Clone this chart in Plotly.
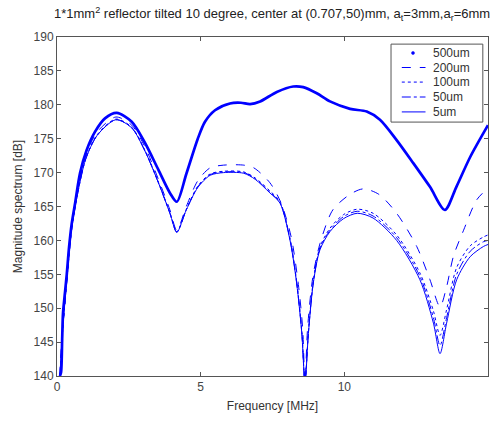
import plotly.graph_objects as go

# Frequency [MHz] / magnitude [dB] samples for each reflector roughness
freq_500um = [0.10, 0.14, 0.18, 0.21, 0.28, 0.34, 0.42, 0.51, 0.63, 0.80, 1.03, 1.32, 1.67, 2.08,
              2.60, 3.06, 3.53, 3.93, 4.17, 4.50, 4.90, 5.15, 5.50, 6.02, 6.40, 6.72, 7.07, 7.65,
              8.22, 8.57, 9.04, 9.50, 10.20, 10.78, 11.24, 11.82, 12.40, 12.98, 13.50, 13.90,
              14.38, 15.00]
mag_500um = [140.0, 140.5, 145.5, 149.3, 152.4, 155.0, 159.0, 162.4, 165.5, 169.9, 173.3, 176.0,
             178.0, 178.8, 177.5, 174.4, 170.4, 167.0, 165.7, 169.8, 175.0, 177.5, 179.2, 180.2,
             180.3, 180.1, 180.5, 181.9, 182.7, 182.6, 181.7, 180.5, 179.4, 179.0, 177.8, 174.8,
             171.4, 167.9, 164.5, 167.9, 172.3, 177.0]

freq_200um = [0.10, 0.20, 0.35, 0.50, 0.70, 1.00, 1.40, 2.05, 2.60, 3.06, 3.53, 3.93, 4.17, 4.50,
              4.90, 5.33, 5.80, 6.50, 6.85, 7.41, 7.80, 8.15, 8.40, 8.55, 8.63, 8.72, 8.90, 9.15,
              9.60, 10.20, 10.66, 11.20, 11.82, 12.52, 12.98, 13.33, 13.55, 13.80, 14.15, 14.61,
              15.00]
mag_200um = [140.0, 147.0, 154.5, 161.5, 167.0, 172.5, 176.0, 178.2, 177.0, 173.8, 169.0, 164.5,
             161.5, 165.0, 168.8, 170.7, 171.1, 171.1, 170.7, 168.5, 165.5, 160.5, 153.5, 147.0,
             139.0, 147.0, 154.5, 159.5, 164.5, 166.8, 167.6, 166.8, 164.0, 159.1, 154.2, 150.2,
             153.0, 157.7, 161.5, 166.0, 167.7]

freq_100um = [0.10, 0.20, 0.35, 0.50, 0.70, 1.00, 1.40, 2.05, 2.60, 3.06, 3.53, 3.93, 4.17, 4.50,
              4.90, 5.33, 5.80, 6.50, 6.90, 7.41, 7.76, 8.11, 8.34, 8.52, 8.63, 8.75, 8.92, 9.15,
              9.50, 9.97, 10.45, 11.00, 11.82, 12.63, 13.10, 13.33, 13.56, 13.91, 14.38, 14.84,
              15.00]
mag_100um = [140.0, 147.0, 154.5, 161.3, 166.6, 172.1, 175.6, 177.9, 176.7, 173.3, 168.6, 164.1,
             161.3, 164.6, 168.0, 169.8, 170.2, 170.1, 169.2, 167.3, 165.7, 160.3, 154.0, 146.6,
             139.0, 146.6, 154.0, 159.0, 161.8, 163.8, 164.6, 164.0, 160.8, 155.2, 149.6, 146.0,
             149.8, 156.0, 159.2, 160.5, 160.8]

freq_50um = [0.10, 0.20, 0.35, 0.50, 0.70, 1.00, 1.40, 2.05, 2.60, 3.06, 3.53, 3.93, 4.17, 4.50,
             4.90, 5.33, 5.80, 6.50, 6.90, 7.41, 7.76, 8.11, 8.34, 8.52, 8.63, 8.75, 8.92, 9.15,
             9.50, 9.97, 10.45, 11.00, 11.82, 12.63, 13.10, 13.33, 13.56, 13.91, 14.38, 14.84,
             15.00]
mag_50um = [140.0, 147.0, 154.5, 161.3, 166.5, 172.0, 175.5, 177.8, 176.6, 173.2, 168.5, 164.0,
            161.2, 164.5, 167.9, 169.7, 170.1, 170.0, 169.1, 167.1, 165.6, 160.1, 153.8, 146.4,
            139.0, 146.4, 153.8, 158.8, 161.5, 163.5, 164.3, 163.6, 160.4, 154.7, 148.6, 144.5,
            148.6, 155.0, 158.4, 159.8, 160.0]

freq_5um = [0.10, 0.20, 0.35, 0.50, 0.70, 1.00, 1.40, 2.05, 2.60, 3.06, 3.53, 3.93, 4.17, 4.50,
            4.90, 5.33, 5.80, 6.50, 6.90, 7.41, 7.76, 8.11, 8.34, 8.52, 8.63, 8.75, 8.92, 9.15,
            9.50, 9.97, 10.45, 11.00, 11.82, 12.63, 13.10, 13.33, 13.56, 13.91, 14.38, 14.84,
            15.00]
mag_5um = [140.0, 147.0, 154.5, 161.3, 166.5, 172.0, 175.5, 177.8, 176.6, 173.2, 168.5, 164.0,
           161.2, 164.5, 167.8, 169.6, 170.0, 169.9, 169.0, 167.0, 165.5, 160.0, 153.7, 146.3,
           139.0, 146.3, 153.7, 158.6, 161.3, 163.2, 164.0, 163.3, 160.0, 154.2, 147.8, 143.3,
           147.8, 154.2, 157.6, 159.1, 159.4]

names = ["500um", "200um", "100um", "50um", "5um"]
freqs = [freq_500um, freq_200um, freq_100um, freq_50um, freq_5um]
mags = [mag_500um, mag_200um, mag_100um, mag_50um, mag_5um]
dashes = ["solid", "dash", "dot", "dashdot", "solid"]
widths = [2.7, 1.0, 1.0, 1.0, 1.0]

x_ticks = [0, 5, 10, 15]
y_ticks = [140, 145, 150, 155, 160, 165, 170, 175, 180, 185, 190]

BLUE = "#0000ff"
FONT = "Liberation Sans, Arial, sans-serif"

fig = go.Figure()
for name, f, m, d, w in zip(names, freqs, mags, dashes, widths):
    fig.add_trace(go.Scatter(
        x=f, y=m, mode="lines", name=name, showlegend=False,
        line=dict(color=BLUE, width=w, dash=d, shape="spline", smoothing=0.8),
    ))

# Hand-built legend box in paper coordinates (top right of the axes)
shapes = [dict(type="rect", xref="paper", yref="paper", x0=0.775, x1=0.988, y0=0.749, y1=0.979,
               line=dict(color="#555555", width=1), fillcolor="white", layer="above")]
annotations = []
row_y = [0.953, 0.910, 0.867, 0.823, 0.779]
for i, name in enumerate(names):
    yy = row_y[i]
    if i == 0:
        shapes.append(dict(type="circle", xref="paper", yref="paper",
                           x0=0.826 - 0.0035, x1=0.826 + 0.0035, y0=yy - 0.0045, y1=yy + 0.0045,
                           fillcolor=BLUE, line=dict(color=BLUE, width=0.5), layer="above"))
    else:
        shapes.append(dict(type="line", xref="paper", yref="paper", x0=0.800, x1=0.855,
                           y0=yy, y1=yy, line=dict(color=BLUE, width=1, dash=dashes[i]),
                           layer="above"))
    annotations.append(dict(x=0.868, y=yy, xref="paper", yref="paper", text=name,
                            showarrow=False, xanchor="left", yanchor="middle",
                            font=dict(family=FONT, size=12, color="#333333")))

axis_common = dict(
    showline=True, linecolor="#555555", linewidth=1, mirror="ticks",
    ticks="inside", ticklen=4, tickcolor="#555555", showgrid=False, zeroline=False,
    tickfont=dict(family=FONT, size=12, color="#444444"),
)

fig.update_layout(
    width=492, height=422,
    margin=dict(l=57, r=4, t=37, b=46),
    paper_bgcolor="white", plot_bgcolor="white",
    title=dict(
        text="1*1mm<sup>2</sup> reflector tilted 10 degree, center at (0.707,50)mm, "
             "a<sub>t</sub>=3mm,a<sub>r</sub>=6mm",
        x=0.553, xanchor="center", y=0.967, yanchor="middle",
        font=dict(family=FONT, size=13, color="#222222"),
    ),
    xaxis=dict(range=[0, 15], tickvals=x_ticks,
               title=dict(text="Frequency [MHz]", standoff=8,
                          font=dict(family=FONT, size=12, color="#333333")),
               **axis_common),
    yaxis=dict(range=[140, 190], tickvals=y_ticks,
               title=dict(text="Magnitude spectrum [dB]", standoff=8,
                          font=dict(family=FONT, size=12, color="#333333")),
               **axis_common),
    shapes=shapes,
    annotations=annotations,
)

fig.write_html("out.html")
